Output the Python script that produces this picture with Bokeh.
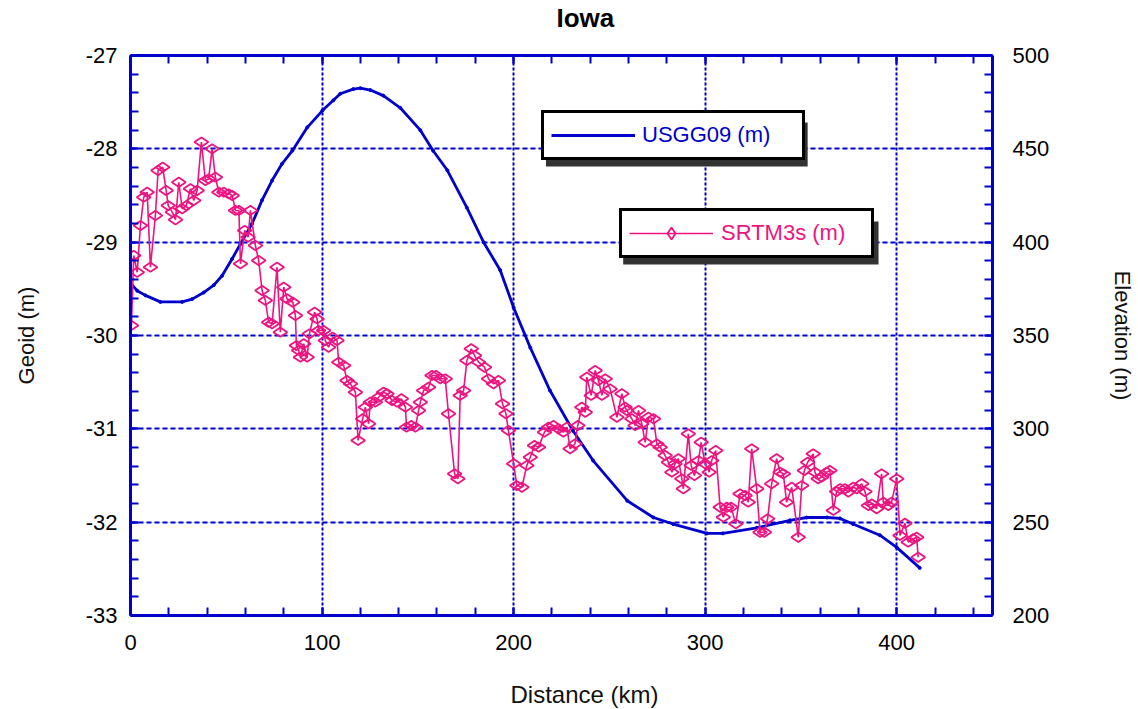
from bokeh.plotting import figure
from bokeh.models import (Range1d, LinearAxis, SingleIntervalTicker, Legend, LegendItem,
                          BoxAnnotation, Title, CustomJSTickFormatter, Grid)
from bokeh.embed import file_html
from bokeh.resources import INLINE
import math

# ---------------- data ----------------
blue_km = [0, 3.5, 7.8, 15.6, 27.0, 32.2, 38.2, 43.5, 47.8, 53.0,
           57.4, 63.5, 68.7, 73.9, 79.1, 84.5, 92.3, 100.2, 105.9, 109.5,
           116.3, 120.0, 125.2, 132.0, 140.8, 151.3, 158.0, 165.4, 175.6, 184.3,
           193.0, 200.0, 208.7, 219.0, 231.0, 241.5, 259.3, 273.0, 283.3, 301.0,
           309.3, 327.0, 344.3, 353.0, 363.6, 370.4, 377.2, 391.2, 400.0, 412.0]
blue_geoid = [-29.44, -29.52, -29.57, -29.64, -29.64, -29.61, -29.54, -29.46, -29.36, -29.18,
              -29.02, -28.80, -28.55, -28.34, -28.16, -28.02, -27.77, -27.59, -27.48, -27.41,
              -27.36, -27.35, -27.37, -27.43, -27.56, -27.80, -28.02, -28.23, -28.63, -29.00,
              -29.30, -29.70, -30.13, -30.59, -31.02, -31.34, -31.77, -31.95, -32.02, -32.12,
              -32.12, -32.06, -31.98, -31.95, -31.95, -31.96, -32.02, -32.14, -32.27, -32.49]

srtm_km = [0.5, 1.7, 3.5, 5.2, 6.9, 8.7, 10.4, 13.0, 14.4, 16.8,
           18.6, 19.7, 21.8, 23.5, 25.2, 27.0, 29.1, 31.3, 33.0, 34.8,
           37.0, 39.1, 40.8, 42.6, 44.3, 46.1, 48.7, 51.3, 53.1, 54.8,
           56.6, 57.4, 59.6, 61.4, 62.6, 65.2, 66.9, 68.7, 70.4, 72.1,
           73.9, 76.5, 78.2, 80.0, 81.7, 84.7, 86.1, 86.6, 87.8, 88.7,
           90.4, 92.2, 93.4, 96.1, 97.4, 98.2, 100.8, 101.7, 103.4, 105.5,
           107.8, 108.7, 111.3, 113.0, 114.8, 117.4, 118.8, 121.2, 122.6, 124.3,
           125.2, 127.8, 129.5, 132.1, 133.9, 136.5, 139.1, 141.4, 143.5, 144.1,
           146.6, 148.7, 150.4, 151.3, 153.0, 155.6, 157.4, 159.5, 161.7, 164.3,
           166.0, 169.2, 170.9, 172.1, 173.9, 175.6, 177.9, 179.6, 181.7, 184.8,
           186.9, 189.5, 192.1, 194.2, 196.0, 197.3, 200.0, 201.7, 204.3, 206.9,
           208.7, 210.9, 213.0, 216.1, 218.2, 220.8, 223.4, 226.0, 227.8, 229.5,
           232.0, 233.5, 235.6, 237.4, 238.2, 240.5, 242.6, 244.3, 246.1, 247.8,
           250.4, 253.9, 256.5, 258.2, 259.1, 261.7, 263.4, 265.2, 266.9, 268.7,
           270.4, 273.0, 274.8, 276.5, 279.1, 280.8, 282.6, 284.3, 286.0, 287.8,
           288.6, 291.2, 292.7, 294.4, 296.5, 297.9, 300.0, 302.1, 303.4, 305.5,
           307.8, 309.5, 311.3, 313.5, 316.0, 318.2, 320.8, 322.5, 324.3, 326.9,
           328.6, 330.9, 332.6, 334.7, 337.3, 339.1, 340.8, 342.5, 345.2, 348.6,
           350.4, 351.8, 353.5, 356.4, 357.3, 359.0, 360.8, 363.4, 365.1, 366.9,
           368.6, 370.4, 373.0, 374.7, 377.3, 379.1, 381.7, 383.4, 385.2, 386.9,
           389.5, 392.1, 393.0, 395.6, 397.3, 400.0, 401.7, 404.3, 406.0, 408.6,
           410.4, 411.2]
srtm_elev = [355.4, 392.9, 383.9, 408.9, 424.1, 426.8, 386.6, 414.3, 438.4, 440.2,
             427.7, 419.6, 416.1, 412.0, 432.1, 417.9, 419.6, 428.6, 422.3, 427.7,
             453.6, 433.0, 433.9, 450.0, 434.8, 426.8, 426.8, 425.9, 425.0, 417.0,
             417.0, 388.4, 406.3, 402.7, 417.0, 398.2, 390.2, 374.1, 368.8, 357.1,
             356.3, 386.6, 351.8, 375.9, 369.7, 367.8, 360.7, 344.6, 342.0, 338.4,
             345.6, 338.4, 350.9, 362.5, 358.9, 352.7, 352.7, 347.3, 343.7, 349.1,
             347.3, 335.7, 333.9, 325.9, 324.1, 319.6, 293.8, 305.4, 311.6, 302.7,
             314.3, 314.3, 316.9, 319.6, 318.8, 315.2, 314.3, 316.1, 311.6, 300.9,
             301.8, 300.9, 309.8, 314.3, 320.5, 322.3, 328.6, 328.6, 326.8, 326.8,
             308.1, 275.9, 273.2, 317.9, 320.5, 336.6, 342.9, 339.3, 335.7, 333.0,
             326.8, 324.1, 325.9, 313.4, 308.1, 299.1, 281.3, 269.6, 268.7, 280.4,
             284.8, 291.1, 290.2, 298.2, 300.9, 301.8, 300.0, 298.2, 300.9, 289.3,
             291.9, 301.8, 311.6, 308.9, 327.7, 317.9, 331.3, 325.9, 317.9, 326.8,
             321.4, 306.2, 318.8, 311.6, 309.8, 305.4, 301.8, 309.8, 302.7, 292.8,
             306.2, 305.4, 291.9, 290.2, 285.7, 282.1, 276.8, 281.3, 284.0, 273.2,
             267.9, 297.3, 280.4, 275.0, 283.0, 292.8, 281.3, 276.8, 283.0, 288.4,
             258.0, 252.7, 258.0, 258.0, 249.1, 265.2, 264.3, 260.7, 289.3, 267.9,
             244.6, 244.6, 251.8, 270.6, 284.0, 276.8, 275.9, 260.7, 268.7, 241.9,
             269.6, 277.7, 282.1, 286.6, 276.8, 273.2, 274.1, 276.8, 277.7, 256.3,
             266.4, 267.9, 267.9, 266.1, 268.7, 267.9, 270.6, 266.4, 258.9, 259.8,
             257.2, 275.9, 260.7, 258.9, 260.7, 273.2, 242.9, 249.4, 239.3, 241.1,
             241.9, 231.2]

title_text = "Iowa"
x_label = "Distance (km)"
left_label = "Geoid (m)"
right_label = "Elevation (m)"
blue_name = "USGG09 (m)"
pink_name = "SRTM3s (m)"

# ---------------- styles ----------------
FONT = "Liberation Sans"
AX = "#0000cd"
BLUE = "#0000cc"
PINK = "#ee1480"

p = figure(width=1138, height=709, output_backend="svg", toolbar_location=None,
           x_range=Range1d(0, 450), y_range=Range1d(-33, -27),
           x_axis_location=None, y_axis_location=None,
           min_border_left=130, min_border_right=145, min_border_top=55, min_border_bottom=94,
           background_fill_color="white", border_fill_color="white")
p.outline_line_color = None
p.extra_y_ranges = {"elev": Range1d(200, 500)}

xt = SingleIntervalTicker(interval=100, num_minor_ticks=5)
yt = SingleIntervalTicker(interval=1, num_minor_ticks=5)
rt = SingleIntervalTicker(interval=50, num_minor_ticks=5)

p.add_layout(Grid(dimension=0, ticker=xt, grid_line_color=AX, grid_line_width=2,
                  grid_line_dash="3 2"))
p.add_layout(Grid(dimension=1, ticker=yt, grid_line_color=AX, grid_line_width=2,
                  grid_line_dash="5 3"))

plain = CustomJSTickFormatter(code="return tick.toString()")


def style(ax):
    ax.axis_line_color = AX
    ax.axis_line_width = 3
    ax.major_tick_in = 8
    ax.major_tick_out = 0
    ax.minor_tick_in = 8
    ax.minor_tick_out = 0
    ax.major_tick_line_color = AX
    ax.minor_tick_line_color = AX
    ax.major_tick_line_width = 2
    ax.minor_tick_line_width = 2
    ax.major_label_text_font = FONT
    ax.major_label_text_font_size = "22px"
    ax.major_label_text_color = "black"
    ax.axis_label_text_font = FONT
    ax.axis_label_text_font_size = "22px"
    ax.axis_label_text_font_style = "normal"
    ax.axis_label_text_color = "#111111"


bottom = LinearAxis(ticker=xt, formatter=plain)
style(bottom)
bottom.major_label_standoff = 19
p.add_layout(bottom, "below")

top = LinearAxis(ticker=xt, formatter=CustomJSTickFormatter(code="return ''"))
style(top)
top.major_label_text_font_size = "1px"
top.major_label_standoff = 0
p.add_layout(top, "above")

left = LinearAxis(ticker=yt, formatter=plain, axis_label=left_label)
style(left)
left.major_label_standoff = 13
left.axis_label_standoff = 44
p.add_layout(left, "left")

right = LinearAxis(ticker=rt, formatter=plain, y_range_name="elev", axis_label=right_label)
style(right)
right.major_label_standoff = 20
right.axis_label_standoff = 58
p.add_layout(right, "right")

# ---------------- series ----------------
bl = p.line(blue_km, blue_geoid, line_color=BLUE, line_width=2.8)
p.scatter(blue_km, blue_geoid, marker="circle", size=3, fill_color=BLUE, line_color=BLUE)

pl = p.line(srtm_km, srtm_elev, y_range_name="elev", line_color=PINK, line_width=1.6)
pm = p.scatter(srtm_km, srtm_elev, y_range_name="elev", marker="diamond", angle=math.pi / 2,
               size=14, fill_color=None, line_color=PINK, line_width=1.8)

# ---------------- legends (with drop shadows) ----------------
p.add_layout(BoxAnnotation(left=216.9, right=353.5, top=-27.718, bottom=-28.189,
                           fill_color="#333333", fill_alpha=1, line_color=None))
p.add_layout(BoxAnnotation(left=257.2, right=390.5, top=-28.779, bottom=-29.239,
                           fill_color="#333333", fill_alpha=1, line_color=None))

common = dict(border_line_color="black", border_line_width=3, border_line_alpha=1,
              background_fill_color="white", background_fill_alpha=1, padding=7, spacing=0,
              margin=0, glyph_width=84, glyph_height=30, label_height=24,
              label_text_font=FONT, label_text_font_size="22px")

lg1 = Legend(items=[LegendItem(label=blue_name, renderers=[bl])], location=(411, 455),
             label_standoff=7, label_width=153, label_text_color=BLUE, **common)
lg2 = Legend(items=[LegendItem(label=pink_name, renderers=[pl, pm])], location=(489, 357),
             label_standoff=8, label_width=143, label_text_color=PINK, **common)
p.add_layout(lg1)
p.add_layout(lg2)

# ---------------- title and x label (spacers keep them away from the axes) ----------------
p.add_layout(Title(text=" ", text_font_size="1px", standoff=20), "above")
p.add_layout(Title(text=title_text, align="left", offset=426, text_font=FONT,
                   text_font_size="26px", text_font_style="bold", text_color="black",
                   standoff=0), "above")
p.add_layout(Title(text=" ", text_font_size="1px", standoff=23), "below")
p.add_layout(Title(text=x_label, align="left", offset=380, text_font=FONT,
                   text_font_size="24px", text_font_style="normal", text_color="#111111",
                   standoff=0), "below")

open("out.html", "w").write(file_html(p, INLINE))
